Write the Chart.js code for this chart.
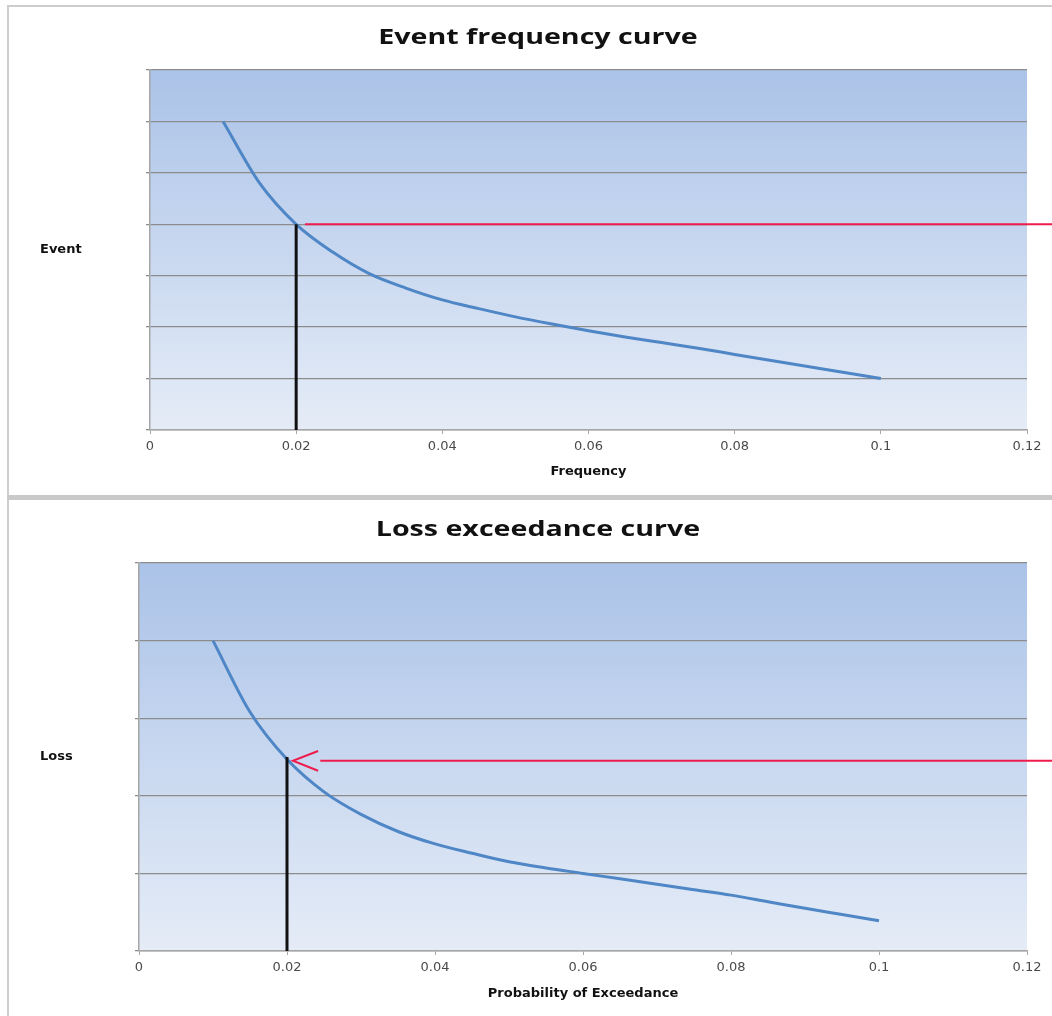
<!DOCTYPE html>
<html>
<head>
<meta charset="utf-8">
<title>Event frequency / Loss exceedance</title>
<script src="https://cdn.jsdelivr.net/npm/chart.js@4.4.1/dist/chart.umd.min.js"></script>
<style>
  html, body { margin: 0; padding: 0; background: #fff; overflow: hidden; }
  body { width: 1052px; height: 1016px; position: relative; }
  .panel { position: absolute; left: 7px; width: 1100px; border-left: 2px solid #cdcdcd; }
  #panelTop { top: 5px; height: 490px; border-top: 2px solid #cdcdcd; }
  #panelBottom { top: 500px; height: 520px; }
  #sep { position: absolute; left: 7px; top: 495px; width: 1100px; height: 5px; background: #c9c9c9; }
  .box { position: absolute; left: 0; width: 1052px; }
  #boxTop { top: 0; height: 496px; }
  #boxBottom { top: 497px; height: 519px; }
</style>
</head>
<body>
<div class="panel" id="panelTop"></div>
<div id="sep"></div>
<div class="panel" id="panelBottom"></div>
<div class="box" id="boxTop"><canvas id="eventChart"></canvas></div>
<div class="box" id="boxBottom"><canvas id="lossChart"></canvas></div>
<script>
  // x tick labels shared by both charts
  const xTicks = [0, 0.02, 0.04, 0.06, 0.08, 0.1, 0.12];

  // Event frequency curve
  const freq = [0.01, 0.015, 0.02, 0.025, 0.03, 0.035, 0.04, 0.045, 0.05, 0.055,
                0.06, 0.065, 0.07, 0.075, 0.08, 0.085, 0.09, 0.095, 0.1];
  const eventVal = [6.0, 4.8, 4.0, 3.46, 3.04, 2.76, 2.53, 2.36, 2.2, 2.06,
                    1.93, 1.81, 1.7, 1.59, 1.47, 1.35, 1.235, 1.12, 1.0];
  const freqDropX = [0.02, 0.02];
  const freqDropY = [0, 4];
  const freqLeadX = [0.0212, 0.125];
  const freqLeadY = [4, 4];

  // Loss exceedance curve
  const prob = [0.01, 0.015, 0.02, 0.025, 0.03, 0.035, 0.04, 0.045, 0.05, 0.055,
                0.06, 0.065, 0.07, 0.075, 0.08, 0.085, 0.09, 0.095, 0.1];
  const lossVal = [4.0, 3.08, 2.47, 2.05, 1.76, 1.54, 1.38, 1.26, 1.15, 1.07,
                   1.0, 0.93, 0.86, 0.79, 0.72, 0.635, 0.55, 0.47, 0.39];
  const lossDropX = [0.02, 0.02];
  const lossDropY = [0, 2.5];
  const lossArrowX = [0.0245, 0.125];
  const lossArrowY = [2.452, 2.452];
  const lossHeadX = [0.0242, 0.0208, 0.0242];
  const lossHeadY = [2.577, 2.452, 2.323];

  function pts(xs, ys) {
    return xs.map((x, i) => ({ x: x, y: ys[i] }));
  }

  // gradient plot background + titles (y title drawn flat, like Excel)
  const excelLook = {
    id: "excelLook",
    beforeDraw(chart, args, opts) {
      const { ctx, chartArea: a } = chart;
      const g = ctx.createLinearGradient(0, a.top, 0, a.bottom);
      g.addColorStop(0, "#abc3e8");
      g.addColorStop(1, "#e5ecf7");
      ctx.save();
      ctx.fillStyle = g;
      ctx.fillRect(a.left, a.top, a.right - a.left, a.bottom - a.top);
      ctx.restore();
    },
    afterDraw(chart, args, opts) {
      const { ctx, chartArea: a } = chart;
      ctx.save();
      ctx.fillStyle = "#111";
      ctx.textBaseline = "middle";
      ctx.textAlign = "center";
      ctx.font = "bold 22px 'Open Sans'";
      ctx.translate(538, opts.titleY);
      ctx.scale(1.3, 1);
      ctx.fillText(opts.title, 0, 0);
      ctx.restore();

      ctx.save();
      ctx.fillStyle = "#111";
      ctx.textBaseline = "middle";
      ctx.textAlign = "left";
      ctx.font = "bold 13px 'DejaVu Sans'";
      ctx.fillText(opts.yTitle, 40, (a.top + a.bottom) / 2);
      ctx.restore();
    },
  };

  function makeChart(id, cfg) {
    const ds = [
      {
        data: pts(cfg.dropX, cfg.dropY),
        borderColor: "#111111",
        borderWidth: 3,
      },
      {
        data: pts(cfg.curveX, cfg.curveY),
        borderColor: "#4f86c6",
        borderWidth: 3,
        cubicInterpolationMode: "monotone",
      },
    ];
    cfg.extra.forEach((e) => {
      ds.push({
        data: pts(e[0], e[1]),
        borderColor: "#ee1c4c",
        borderWidth: 2,
        clip: false,
      });
    });
    ds.forEach((d) => {
      d.showLine = true;
      d.pointRadius = 0;
      d.pointHoverRadius = 0;
    });

    return new Chart(document.getElementById(id), {
      type: "scatter",
      data: { datasets: ds },
      plugins: [excelLook],
      options: {
        responsive: true,
        maintainAspectRatio: false,
        animation: false,
        events: [],
        layout: { padding: { top: cfg.top, right: 25, left: 0, bottom: 0 } },
        plugins: {
          legend: { display: false },
          tooltip: { enabled: false },
          excelLook: { title: cfg.title, yTitle: cfg.yTitle, titleY: cfg.titleY },
        },
        scales: {
          x: {
            type: "linear",
            min: 0,
            max: 0.12,
            afterBuildTicks: (s) => {
              s.ticks = xTicks.map((v) => ({ value: v }));
            },
            afterFit: (s) => {
              s.height = cfg.xHeight;
            },
            ticks: {
              color: "#4a4a4a",
              font: { family: "'DejaVu Sans'", size: 13 },
              padding: 5,
              maxRotation: 0,
              callback: (v) => String(+v.toFixed(2)),
            },
            grid: { drawOnChartArea: false, drawTicks: true, tickLength: 4, color: "#a6a6a6" },
            border: { display: true, color: "#a6a6a6", width: 1.5 },
            title: {
              display: true,
              text: cfg.xTitle,
              color: "#111",
              font: { family: "'DejaVu Sans'", size: 13, weight: "bold" },
              padding: { top: 0, bottom: cfg.xTitlePad },
            },
          },
          y: {
            min: 0,
            max: cfg.yMax,
            ticks: { display: false, stepSize: 1 },
            afterFit: (s) => {
              s.width = cfg.yWidth;
            },
            grid: { color: "#8c8c8c", lineWidth: 1.3, drawTicks: true, tickLength: 4 },
            border: { display: true, color: "#a6a6a6", width: 1.5 },
          },
        },
      },
    });
  }

  makeChart("eventChart", {
    title: "Event frequency curve",
    titleY: 38,
    yTitle: "Event",
    xTitle: "Frequency",
    curveX: freq,
    curveY: eventVal,
    dropX: freqDropX,
    dropY: freqDropY,
    extra: [[freqLeadX, freqLeadY]],
    yMax: 7,
    top: 70,
    yWidth: 150,
    xHeight: 66,
    xTitlePad: 17,
  });

  makeChart("lossChart", {
    title: "Loss exceedance curve",
    titleY: 33,
    yTitle: "Loss",
    xTitle: "Probability of Exceedance",
    curveX: prob,
    curveY: lossVal,
    dropX: lossDropX,
    dropY: lossDropY,
    extra: [
      [lossArrowX, lossArrowY],
      [lossHeadX, lossHeadY],
    ],
    yMax: 5,
    top: 66,
    yWidth: 139,
    xHeight: 65,
    xTitlePad: 15,
  });
</script>
</body>
</html>
